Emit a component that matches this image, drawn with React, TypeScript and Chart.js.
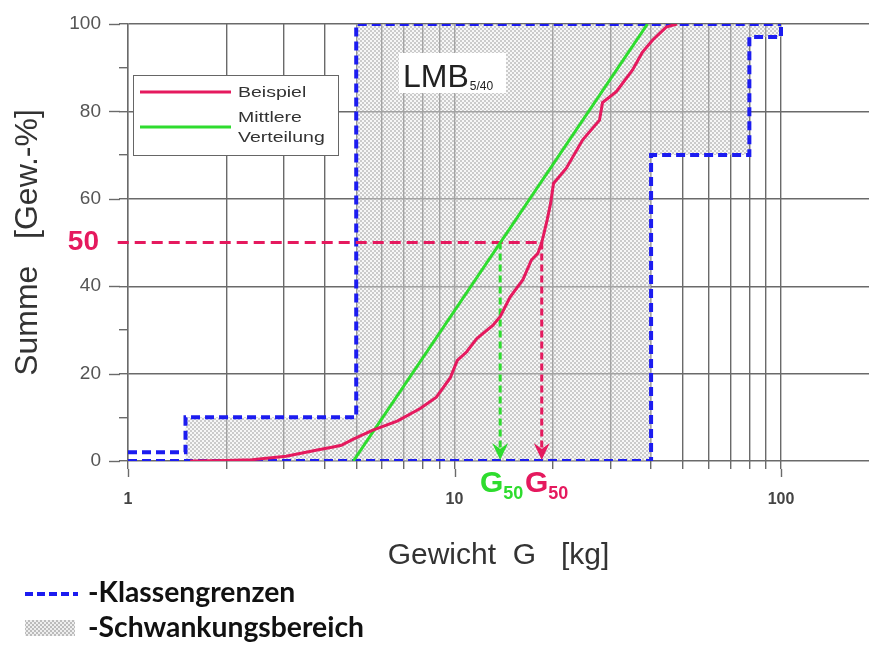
import React, { useEffect, useRef } from 'react';
import { Chart, registerables } from 'chart.js';

Chart.register(...registerables);

// ---- data ----
const beispielX = [1.55, 2.0, 2.4, 3.05, 3.8, 4.25, 4.5, 4.9, 5.6, 6.7, 7.85, 8.8, 9.7, 10.2, 10.9, 11.7, 13.1, 13.8, 14.8, 16.2, 17.2, 18.0, 18.5, 19.2, 19.7, 20.1, 22.0, 24.7, 27.8, 28.4, 31.3, 35.1, 37.6, 40.4, 44.5, 48.0];
const beispielY = [0, 0.1, 0.3, 1.1, 2.5, 3.2, 3.6, 5.0, 7.0, 9.2, 12.0, 14.6, 19.0, 23.0, 25.0, 28.0, 31.0, 33.0, 37.5, 41.5, 46.0, 47.5, 50.0, 55.0, 59.0, 63.5, 67.0, 73.5, 78.0, 82.0, 84.5, 89.5, 93.5, 96.3, 99.3, 100];

const mittlereX = [4.9, 39];
const mittlereY = [0, 100];

const upperX = [1, 1.5, 5, 40, 80, 100];
const upperY = [2, 10, 100, 100, 100, 100];
const lowerX = [1, 1.5, 5, 40, 80, 100, 100];
const lowerY = [0, 0, 0, 70, 97, 97, 100];

const level50 = 50;
const g50Mittlere = 13.8;
const g50Beispiel = 18.5;

const xGridValues = [1, 2, 3, 4, 5, 6, 7, 8, 9, 10, 20, 30, 40, 50, 60, 70, 80, 90, 100];
const xLabelValues = [1, 10, 100];
const yLabelStep = 20;

const xTitle = 'Gewicht  G   [kg]';
const yTitle = 'Summe   [Gew.-%]';
const legendLabels = ['Beispiel', 'Mittlere', 'Verteilung'];
const bottomLabels = ['-Klassengrenzen', '-Schwankungsbereich'];

// ---- styles ----
const GRID = '#6a6a6a';
const BLUE = '#1c1cf0';
const RED = '#e5195e';
const GREEN = '#2edc2e';
const FONT = '"Liberation Sans", Arial, sans-serif';

const pts = (xs: number[], ys: number[]) => xs.map((x, i) => ({ x, y: ys[i] }));

function makePattern(ctx: CanvasRenderingContext2D, opaque: boolean) {
  const pc = document.createElement('canvas');
  pc.width = 4;
  pc.height = 4;
  const p = pc.getContext('2d')!;
  p.fillStyle = opaque ? '#eeeeee' : 'rgba(238,238,238,0.45)';
  p.fillRect(0, 0, 4, 4);
  p.fillStyle = opaque ? '#bcbcbc' : 'rgba(160,160,160,0.5)';
  p.fillRect(0, 0, 2, 2);
  p.fillRect(2, 2, 2, 2);
  return ctx.createPattern(pc, 'repeat')!;
}

export default function App() {
  const ref = useRef<HTMLCanvasElement | null>(null);

  useEffect(() => {
    const canvas = ref.current!;
    const c2d = canvas.getContext('2d')!;
    const hatch = makePattern(c2d, false);
    const hatchOpaque = makePattern(c2d, true);

    const overlay = {
      id: 'overlay',
      afterDraw(chart: any) {
        const { ctx, chartArea: a } = chart;
        const x = chart.scales.x;
        const y = chart.scales.y;
        ctx.save();

        // longer major tick marks
        ctx.strokeStyle = GRID;
        ctx.lineWidth = 1.4;
        ctx.setLineDash([]);
        for (let v = 0; v <= 100; v += yLabelStep) {
          const py = Math.round(y.getPixelForValue(v)) + 0.5;
          ctx.beginPath();
          ctx.moveTo(a.left - 19, py);
          ctx.lineTo(a.left - 8, py);
          ctx.stroke();
        }
        for (const v of xLabelValues) {
          const px = Math.round(x.getPixelForValue(v)) + 0.5;
          ctx.beginPath();
          ctx.moveTo(px, a.bottom + 8);
          ctx.lineTo(px, a.bottom + 16);
          ctx.stroke();
        }

        // arrow heads
        const arrow = (val: number, color: string) => {
          const px = x.getPixelForValue(val);
          const tip = y.getPixelForValue(0) - 1;
          ctx.fillStyle = color;
          ctx.beginPath();
          ctx.moveTo(px, tip);
          ctx.lineTo(px - 8, tip - 17);
          ctx.lineTo(px, tip - 11);
          ctx.lineTo(px + 8, tip - 17);
          ctx.closePath();
          ctx.fill();
        };
        arrow(g50Mittlere, GREEN);
        arrow(g50Beispiel, RED);

        // LMB label
        ctx.fillStyle = '#ffffff';
        ctx.fillRect(399, 53, 107, 40);
        ctx.fillStyle = '#222';
        ctx.textBaseline = 'alphabetic';
        ctx.textAlign = 'left';
        ctx.font = `32px ${FONT}`;
        ctx.fillText('LMB', 403, 87);
        const lmbW = ctx.measureText('LMB').width;
        ctx.font = `12px ${FONT}`;
        ctx.fillText('5/40', 403 + lmbW + 1, 90);

        // inner legend box
        ctx.fillStyle = '#ffffff';
        ctx.fillRect(133, 75, 205, 80);
        ctx.strokeStyle = '#666';
        ctx.lineWidth = 1;
        ctx.strokeRect(133.5, 75.5, 205, 80);
        ctx.lineWidth = 3;
        ctx.strokeStyle = RED;
        ctx.beginPath();
        ctx.moveTo(140, 92);
        ctx.lineTo(231, 92);
        ctx.stroke();
        ctx.strokeStyle = GREEN;
        ctx.beginPath();
        ctx.moveTo(140, 127);
        ctx.lineTo(231, 127);
        ctx.stroke();
        ctx.fillStyle = '#333';
        ctx.font = `15px ${FONT}`;
        ctx.textBaseline = 'middle';
        const stretched = (t: string, tx: number, ty: number) => {
          ctx.save();
          ctx.translate(tx, ty);
          ctx.scale(1.3, 1);
          ctx.fillText(t, 0, 0);
          ctx.restore();
        };
        stretched(legendLabels[0], 238, 93);
        stretched(legendLabels[1], 238, 118);
        stretched(legendLabels[2], 238, 138);

        // "50" label
        ctx.fillStyle = RED;
        ctx.font = `bold 28px ${FONT}`;
        ctx.textAlign = 'right';
        ctx.textBaseline = 'middle';
        ctx.fillText(String(level50), 99, y.getPixelForValue(level50));

        // G50 labels
        ctx.textAlign = 'left';
        ctx.textBaseline = 'alphabetic';
        const g50 = (left: number, color: string) => {
          ctx.fillStyle = color;
          ctx.font = `bold 30px ${FONT}`;
          ctx.fillText('G', left, 492);
          const w = ctx.measureText('G').width;
          ctx.font = `bold 18px ${FONT}`;
          ctx.fillText('50', left + w, 499);
        };
        g50(480, GREEN);
        g50(525, RED);

        // bottom legend
        ctx.strokeStyle = BLUE;
        ctx.lineWidth = 4;
        ctx.setLineDash([8, 4]);
        ctx.beginPath();
        ctx.moveTo(25, 594);
        ctx.lineTo(78, 594);
        ctx.stroke();
        ctx.setLineDash([]);
        ctx.fillStyle = hatchOpaque;
        ctx.fillRect(25, 620, 50, 16);
        ctx.fillStyle = '#111';
        ctx.textBaseline = 'middle';
        ctx.font = `bold 26px Lato, ${FONT}`;
        const m = ctx.measureText(bottomLabels[0]).width;
        const fs = 26 * 207 / m;
        ctx.font = `bold ${fs.toFixed(1)}px Lato, ${FONT}`;
        ctx.fillText(bottomLabels[0], 88, 593);
        ctx.fillText(bottomLabels[1], 88, 628);

        ctx.restore();
      },
    };

    const chart = new Chart(canvas, {
      type: 'line',
      data: {
        datasets: [
          {
            label: 'hatchTop',
            data: pts(upperX.slice(1), upperY.slice(1)),
            stepped: true,
            borderWidth: 0,
            borderColor: 'rgba(0,0,0,0)',
            pointRadius: 0,
            fill: 1,
            backgroundColor: hatch,
            order: 10,
          },
          {
            label: 'hatchBottom',
            data: pts(lowerX.slice(1), lowerY.slice(1)),
            stepped: true,
            borderWidth: 0,
            borderColor: 'rgba(0,0,0,0)',
            pointRadius: 0,
            fill: false,
            order: 11,
          },
          {
            label: 'Klassengrenzen oben',
            data: pts(upperX, upperY),
            stepped: true,
            borderColor: BLUE,
            borderWidth: 4,
            borderDash: [9, 5],
            pointRadius: 0,
            fill: false,
            order: 5,
          },
          {
            label: 'Klassengrenzen unten',
            data: pts(lowerX, lowerY),
            stepped: true,
            borderColor: BLUE,
            borderWidth: 4,
            borderDash: [9, 5],
            pointRadius: 0,
            fill: false,
            order: 5,
          },
          {
            label: 'guide50',
            data: [{ x: 0.93, y: level50 }, { x: g50Beispiel, y: level50 }],
            borderColor: RED,
            borderWidth: 3,
            borderDash: [11, 6],
            pointRadius: 0,
            fill: false,
            clip: false as any,
            order: 3,
          },
          {
            label: 'guideGreen',
            data: [{ x: g50Mittlere, y: level50 }, { x: g50Mittlere, y: 2 }],
            borderColor: GREEN,
            borderWidth: 3,
            borderDash: [7, 4],
            pointRadius: 0,
            fill: false,
            order: 3,
          },
          {
            label: 'guideRed',
            data: [{ x: g50Beispiel, y: level50 }, { x: g50Beispiel, y: 2 }],
            borderColor: RED,
            borderWidth: 3,
            borderDash: [7, 4],
            pointRadius: 0,
            fill: false,
            order: 3,
          },
          {
            label: 'Mittlere Verteilung',
            data: pts(mittlereX, mittlereY),
            borderColor: GREEN,
            borderWidth: 3,
            pointRadius: 0,
            fill: false,
            order: 1,
          },
          {
            label: 'Beispiel',
            data: pts(beispielX, beispielY),
            borderColor: RED,
            borderWidth: 3,
            pointRadius: 0,
            fill: false,
            order: 0,
          },
        ],
      },
      options: {
        responsive: false,
        animation: false,
        devicePixelRatio: 1,
        layout: { padding: { top: 24, left: 0, right: 0, bottom: 0 } },
        plugins: {
          legend: { display: false },
          tooltip: { enabled: false },
        },
        elements: { line: { tension: 0 } },
        scales: {
          x: {
            type: 'logarithmic',
            min: 1,
            max: 186,
            afterBuildTicks: (s: any) => {
              s.ticks = xGridValues.map((v) => ({ value: v }));
            },
            afterFit: (s: any) => {
              s.height = 185;
            },
            grid: { color: GRID, lineWidth: 1.4, tickLength: 8, tickColor: GRID },
            border: { display: false },
            ticks: {
              autoSkip: false,
              maxRotation: 0,
              minRotation: 0,
              padding: 21,
              color: '#444',
              font: { size: 16, weight: 'bold', family: FONT },
              callback: (v: any) => (xLabelValues.includes(Number(v)) ? String(v) : ''),
            },
            title: {
              display: true,
              text: xTitle,
              color: '#333',
              font: { size: 30, family: FONT },
              padding: { top: 0, bottom: 72 },
            },
          },
          y: {
            min: 0,
            max: 100,
            afterFit: (s: any) => {
              s.width = 128;
              s.paddingTop = 0;
              s.paddingBottom = 0;
            },
            grid: {
              color: (c: any) => (c.tick && c.tick.value % yLabelStep === 0 ? GRID : 'rgba(0,0,0,0)'),
              tickColor: GRID,
              lineWidth: 1.4,
              tickLength: 9,
            },
            border: { color: GRID, width: 1.4 },
            ticks: {
              stepSize: 10,
              padding: 18,
              color: '#555',
              font: { size: 19, family: FONT },
              callback: (v: any) => (Number(v) % yLabelStep === 0 ? String(v) : ''),
            },
            title: {
              display: true,
              text: yTitle,
              color: '#333',
              font: { size: 32, family: FONT },
              padding: { top: 9, bottom: 0 },
            },
          },
        },
      } as any,
      plugins: [overlay],
    });

    return () => chart.destroy();
  }, []);

  return (
    <div style={{ position: 'absolute', left: 0, top: 0, width: 869, height: 646, background: '#fff' }}>
      <canvas ref={ref} width={869} height={646} style={{ display: 'block' }} />
    </div>
  );
}
